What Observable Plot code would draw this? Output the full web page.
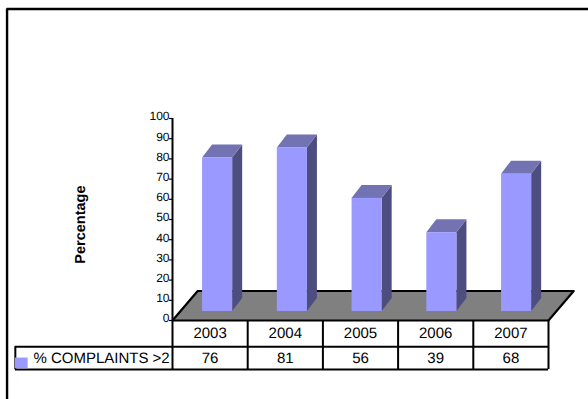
<!DOCTYPE html>
<html>
<head>
<meta charset="utf-8">
<script src="https://cdn.jsdelivr.net/npm/d3@7"></script>
<script src="https://cdn.jsdelivr.net/npm/@observablehq/plot@0.6"></script>
<style>
  html, body { margin: 0; padding: 0; background: #fff; overflow: hidden; }
  svg { display: block; text-rendering: geometricPrecision; }
</style>
</head>
<body>
<div id="chart"></div>
<script>
const years = ["2003", "2004", "2005", "2006", "2007"];
const complaints = [76, 81, 56, 39, 68];
const seriesName = "% COMPLAINTS >2";
const yTicks = [0, 10, 20, 30, 40, 50, 60, 70, 80, 90, 100];

// Pseudo-3D projection, in scale units: each column slot is about one x unit wide
const depthX = 0.133, depthY = 6.4;            // receding edge of each column
const floorDepthX = 0.335, floorDepthY = 14.6; // receding edge of the floor
const floorLift = 4.45;                        // columns stand this far up the floor
const barPitch = 0.994;                        // spacing between neighbouring columns
const barLeft = 0.4, barRight = 0.8;           // front face within its slot
const rowOne = -13, rowTwo = -24.3;            // bottom edges of the table rows
const tableLeft = -2.09;
const borderLeft = -2.2, borderTop = 154.2;    // outer border, top and left sides only

const rows = years.map((year, i) => ({year, i, slot: i * barPitch, value: complaints[i]}));

const sideFaces = rows.flatMap(d => [
  {year: d.year, x: d.slot + barRight, y1: floorLift, y2: floorLift + d.value},
  {year: d.year, x: d.slot + barRight + depthX, y1: floorLift + depthY, y2: floorLift + d.value + depthY}
]);
const topFaces = rows.flatMap(d => [
  {year: d.year, y: floorLift + d.value, x1: d.slot + barLeft, x2: d.slot + barRight},
  {year: d.year, y: floorLift + d.value + depthY, x1: d.slot + barLeft + depthX, x2: d.slot + barRight + depthX}
]);
const floor = [
  {y: 0, x1: 0, x2: years.length},
  {y: floorDepthY, x1: floorDepthX, x2: years.length + floorDepthX}
];
const slots = d3.range(years.length + 1);

const chart = Plot.plot({
  width: 588,
  height: 399,
  marginLeft: 172,
  marginRight: 40,
  marginTop: 118,
  marginBottom: 79,
  style: {fontFamily: "'Liberation Sans', Arial, sans-serif", background: "#fff", overflow: "hidden"},
  x: {type: "linear", domain: [0, years.length], axis: null},
  y: {domain: [0, 100], axis: null},
  marks: [
    // Outer border: top and left sides
    Plot.ruleY([borderTop], {x1: borderLeft, x2: years.length + 1, stroke: "#000", strokeWidth: 2.4}),
    Plot.ruleX([borderLeft], {y1: borderTop, y2: -50, stroke: "#000", strokeWidth: 2.4}),

    // Floor
    Plot.areaX(floor, {y: "y", x1: "x1", x2: "x2", fill: "#808080"}),
    Plot.line([{x: 0, y: 0}, {x: floorDepthX, y: floorDepthY}, {x: years.length + floorDepthX, y: floorDepthY}, {x: years.length, y: 0}],
      {x: "x", y: "y", stroke: "#000", strokeWidth: 2.2}),

    // Columns: side, top, then front face
    Plot.areaY(sideFaces, {x: "x", y1: "y1", y2: "y2", z: "year", fill: "#4d4d80"}),
    Plot.areaX(topFaces, {y: "y", x1: "x1", x2: "x2", z: "year", fill: "#7373b3"}),
    Plot.rect(rows, {
      x1: d => d.slot + barLeft,
      x2: d => d.slot + barRight,
      y1: floorLift,
      y2: d => floorLift + d.value,
      fill: "#9999ff"
    }),

    // Value axis
    Plot.ruleX([0], {y1: 0, y2: 100, stroke: "#000", strokeWidth: 2}),
    Plot.ruleY(yTicks, {y: d => d, x1: -0.04, x2: 0, stroke: "#000", strokeWidth: 1.2}),
    Plot.text(yTicks, {y: d => d, x: 0, text: d => String(d), textAnchor: "end", dx: -3, dy: -2, fontSize: 12, fill: "#000"}),
    Plot.text(["Percentage"], {x: -1.22, y: 47.5, text: d => d, rotate: -90, fontSize: 14.5, fontWeight: "bold", fill: "#000"}),

    // Data table under the floor
    Plot.ruleY([0], {x1: 0, x2: years.length, stroke: "#000", strokeWidth: 2.2}),
    Plot.ruleY([rowOne, rowTwo], {x1: tableLeft, x2: years.length, stroke: "#000", strokeWidth: 2}),
    Plot.ruleX(slots, {x: d => d, y1: 0, y2: rowTwo, stroke: "#000", strokeWidth: 2}),
    Plot.ruleX([tableLeft], {y1: rowOne, y2: rowTwo, stroke: "#000", strokeWidth: 2}),
    Plot.text(rows, {x: d => d.i + 0.5, y: rowOne / 2, text: "year", fontSize: 15, fill: "#000"}),
    Plot.text(rows, {x: d => d.i + 0.5, y: (rowOne + rowTwo) / 2, text: d => String(d.value), fontSize: 15, fill: "#000"}),
    Plot.rect([seriesName], {x1: tableLeft, x2: tableLeft + 0.17, y1: rowTwo + 0.4, y2: rowTwo + 5.7, fill: "#9999ff"}),
    Plot.text([seriesName], {x: tableLeft + 0.24, y: (rowOne + rowTwo) / 2, text: d => d, textAnchor: "start", fontSize: 15, fill: "#000"})
  ]
});

document.getElementById("chart").append(chart);
</script>
</body>
</html>
